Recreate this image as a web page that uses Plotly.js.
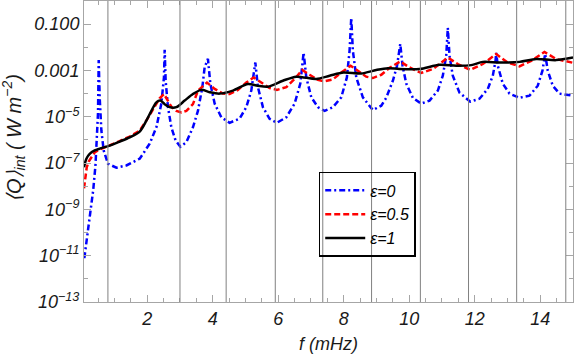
<!DOCTYPE html>
<html>
<head>
<meta charset="utf-8">
<script src="https://cdn.plot.ly/plotly-3.0.1.min.js"></script>
<style>html,body{margin:0;padding:0;background:#fff;}#chart{width:574px;height:357px;}</style>
</head>
<body>
<div id="chart"></div>
<script>
// ---- data ----
var blueX = [0.08,0.21,0.35,0.42,0.467,0.497,0.519,0.549,0.601,0.671,0.803,1.059,1.364,1.770,1.871,2.075,2.280,2.432,2.511,2.533,2.563,2.634,2.737,2.868,3.012,3.195,3.396,3.549,3.683,3.753,3.854,3.927,4.059,4.263,4.516,4.821,5.026,5.178,5.279,5.301,5.380,5.533,5.737,5.960,6.247,6.500,6.674,6.753,6.775,6.857,7.010,7.211,7.415,7.669,7.925,8.096,8.178,8.230,8.279,8.383,8.584,8.889,9.146,9.298,9.500,9.628,9.704,9.726,9.796,9.909,10.110,10.366,10.620,10.873,11.025,11.129,11.178,11.230,11.330,11.535,11.861,12.145,12.398,12.551,12.634,12.655,12.704,12.856,13.061,13.366,13.671,13.924,14.068,14.138,14.150,14.229,14.382,14.586,14.891,15.0];
var blueY = [7.8e-12,2.0e-10,6.6e-9,7.9e-8,9.3e-7,1.4e-5,2.8e-3,6.9e-5,2.5e-6,3.5e-7,9.3e-8,6.3e-8,7.9e-8,1.55e-7,2.5e-7,6.9e-7,3.5e-6,3.7e-5,5.0e-4,7.8e-3,3.6e-4,2.6e-5,3.5e-6,9.3e-7,5.1e-7,7.9e-7,3.5e-6,1.8e-5,1.9e-4,1.35e-3,3.2e-3,2.7e-4,3.7e-5,9.5e-6,5.5e-6,8.3e-6,2.6e-5,1.35e-4,1.35e-3,2.2e-3,1.9e-4,2.6e-5,8.1e-6,5.5e-6,9.5e-6,3.7e-5,2.7e-4,1.95e-3,5.9e-3,5.0e-4,6.9e-5,2.6e-5,1.8e-5,2.6e-5,6.9e-5,5.0e-4,7.1e-3,0.19,7.1e-3,5.0e-4,6.9e-5,1.95e-5,3.0e-5,6.6e-5,3.6e-4,1.6e-3,7.1e-3,1.4e-2,1.6e-3,2.7e-4,6.6e-5,3.7e-5,5.0e-5,1.35e-4,5.9e-4,4.3e-3,6.9e-2,4.3e-3,5.9e-4,1.1e-4,4.5e-5,6.0e-5,1.6e-4,5.9e-4,2.6e-3,5.8e-3,1.6e-3,2.7e-4,1.0e-4,6.6e-5,8.1e-5,2.2e-4,9.8e-4,3.5e-3,5.2e-3,9.8e-4,2.2e-4,1.0e-4,8.1e-5,8.1e-5];

var redX = [0.07,0.107,0.153,0.214,0.305,0.397,0.549,0.854,1.160,1.465,1.770,1.974,2.127,2.280,2.380,2.511,2.634,2.746,2.890,3.042,3.195,3.396,3.549,3.824,4.059,4.312,4.516,4.770,5.026,5.249,5.484,5.737,5.960,6.247,6.500,6.735,6.958,7.211,7.415,7.669,7.925,8.209,8.431,8.688,8.889,9.146,9.399,9.726,10.009,10.366,10.720,11.178,11.483,11.861,12.246,12.655,13.009,13.366,13.723,14.129,14.486,14.891,15.0];
var redY = [8.1e-9,2.6e-8,6.5e-8,1.17e-7,1.9e-7,2.9e-7,3.9e-7,5.7e-7,8.9e-7,1.4e-6,2.5e-6,6.8e-6,1.66e-5,3.7e-5,6.3e-5,9.6e-5,5.0e-5,2.6e-5,1.8e-5,1.55e-5,1.8e-5,3.5e-5,1.35e-4,3.0e-4,1.6e-4,1.0e-4,9.6e-5,1.45e-4,3.0e-4,5.0e-4,3.0e-4,1.75e-4,1.45e-4,1.9e-4,4.3e-4,1.05e-3,6.5e-4,3.9e-4,3.4e-4,4.1e-4,8.1e-4,1.6e-3,9.8e-4,5.4e-4,4.7e-4,6.5e-4,1.3e-3,2.45e-3,1.35e-3,7.8e-4,1.15e-3,3.6e-3,1.9e-3,1.05e-3,1.9e-3,5.1e-3,2.2e-3,1.5e-3,2.6e-3,6.3e-3,3.1e-3,2.2e-3,2.15e-3];

var blackX = [0.07,0.143,0.244,0.397,0.549,0.854,1.160,1.465,1.770,1.974,2.127,2.280,2.402,2.533,2.685,2.890,3.143,3.396,3.653,3.906,4.211,4.617,5.075,5.371,5.685,6.143,6.552,7.162,7.568,7.995,8.535,8.993,9.347,9.704,10.314,10.925,11.434,11.892,12.246,12.755,13.366,13.875,14.486,15.0];
var blackY = [6.6e-8,1.55e-7,2.5e-7,3.5e-7,4.2e-7,5.7e-7,8.5e-7,1.3e-6,2.3e-6,6.8e-6,1.8e-5,4.2e-5,5.0e-5,3.5e-5,2.6e-5,2.6e-5,5.0e-5,9.6e-5,1.45e-4,1.15e-4,1.0e-4,1.35e-4,2.6e-4,2.2e-4,2.0e-4,3.6e-4,5.4e-4,4.3e-4,5.9e-4,8.1e-4,7.4e-4,1.05e-3,1.26e-3,1.15e-3,1.15e-3,1.75e-3,1.6e-3,1.7e-3,2.35e-3,2.2e-3,2.35e-3,3.1e-3,2.8e-3,3.6e-3];

var seriesNames = ["ε=0", "ε=0.5", "ε=1"];
var vlines = [0.80, 3.00, 4.41, 5.91, 7.36, 8.85, 10.34, 11.81, 13.28, 14.78];

var xTickVals = [2,4,6,8,10,12,14];
var xTickText = ["2","4","6","8","10","12","14"];
var yTickVals = [1e-13,1e-11,1e-9,1e-7,1e-5,1e-3,1e-1];
var yTickText = ["10<sup>−13</sup>","10<sup>−11</sup>","10<sup>−9</sup>","10<sup>−7</sup>","10<sup>−5</sup>","0.001","0.100"];
var yMinorVals = [1e-12,1e-10,1e-8,1e-6,1e-4,1e-2];

// ---- chart ----
var FONT = "Liberation Sans, Arial, sans-serif";
var AXC = "#a6a6a6";

var traces = [
  {x: blueX, y: blueY, name: seriesNames[0], mode: "lines",
   line: {color: "#0000ff", width: 2.5, dash: "6px,3px,2px,3px"}},
  {x: redX, y: redY, name: seriesNames[1], mode: "lines",
   line: {color: "#ff0000", width: 2.5, dash: "6px,3px"}},
  {x: blackX, y: blackY, name: seriesNames[2], mode: "lines",
   line: {color: "#000000", width: 2.5, shape: "spline", smoothing: 0.8}}
];

var shapes = vlines.map(function (v) {
  return {type: "line", xref: "x", yref: "paper", x0: v, x1: v, y0: 0, y1: 1,
          line: {color: "#808080", width: 1}, layer: "above"};
});

var tickFont = {family: FONT, size: 18, color: "#1a1a1a", style: "italic"};

var layout = {
  width: 574, height: 357,
  margin: {l: 84, r: 1, t: 1, b: 55},
  paper_bgcolor: "#ffffff", plot_bgcolor: "#ffffff",
  showlegend: true,
  legend: {x: 0.48, y: 0.432, xanchor: "left", yanchor: "top",
           bgcolor: "rgba(0,0,0,0)", bordercolor: "#000000", borderwidth: 1.5,
           itemwidth: 40,
           font: {family: FONT, size: 16, color: "#000", style: "italic"}},
  xaxis: {range: [0.07, 15], showgrid: false, zeroline: false,
          showline: true, linecolor: AXC, linewidth: 1, mirror: "allticks",
          ticks: "inside", ticklen: 7, tickcolor: AXC,
          tickmode: "array", tickvals: xTickVals, ticktext: xTickText,
          tickfont: tickFont,
          minor: {dtick: 0.5, tick0: 0, ticks: "inside", ticklen: 4, tickcolor: AXC, showgrid: false},
          title: {text: "f (mHz)", font: {family: FONT, size: 18, color: "#1a1a1a", style: "italic"}, standoff: 9}},
  yaxis: {type: "log", range: [-13, 0], showgrid: false, zeroline: false,
          showline: true, linecolor: AXC, linewidth: 1, mirror: "allticks",
          ticks: "inside", ticklen: 7, tickcolor: AXC,
          tickmode: "array", tickvals: yTickVals, ticktext: yTickText,
          tickfont: tickFont,
          minor: {tickmode: "array", tickvals: yMinorVals, ticks: "inside", ticklen: 4, tickcolor: AXC, showgrid: false}},
  shapes: shapes,
  annotations: [{
    text: "⟨Q⟩<sub>int</sub> ( W m<sup>−2</sup>)",
    xref: "paper", yref: "paper", x: -0.143, y: 0.545,
    xanchor: "center", yanchor: "middle", textangle: -90, showarrow: false,
    font: {family: FONT, size: 20, color: "#1a1a1a", style: "italic"}
  }]
};

Plotly.newPlot("chart", traces, layout, {displayModeBar: false, staticPlot: true});
</script>
</body>
</html>
